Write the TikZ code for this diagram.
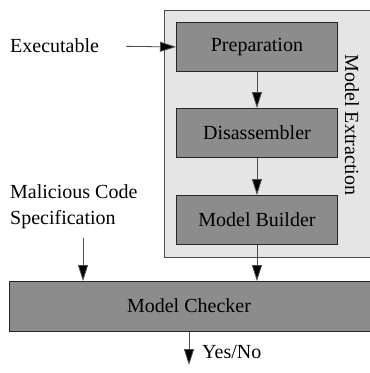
\documentclass[tikz,border=0pt]{standalone}
\usepackage{fontspec}
\setmainfont{Liberation Serif}
\usetikzlibrary{arrows.meta}
\begin{document}
\begin{tikzpicture}[x=1pt,y=-1pt,
  every node/.style={font=\fontsize{20}{26}\selectfont},
  blockbox/.style={draw=black!85,line width=0.9pt,fill=black!45,minimum width=161pt,minimum height=49pt,anchor=north west,inner sep=0pt},
  arr/.style={draw=black!70,line width=0.8pt,-{Triangle[length=16pt,width=10pt,fill=black]}},
  lbl/.style={inner sep=0pt}]
\useasboundingbox (0,0) rectangle (370,373);
\begin{scope}
\clip (0,0) rectangle (370,373);
\node[draw=black!70,line width=0.9pt,fill=black!10,minimum width=230pt,minimum height=247pt,anchor=north west,inner sep=0pt] (outer) at (164,10) {};
\node[blockbox] (prep) at (176,22) {Preparation};
\node[blockbox] (dis) at (176,108) {Disassembler};
\node[blockbox] (build) at (176,195) {Model Builder};
\node[draw=black!85,line width=0.9pt,fill=black!45,minimum width=390pt,minimum height=50pt,anchor=north west,inner sep=0pt] (check) at (9,281) {};
\node[lbl] (checktxt) at (189,306) {Model Checker};
\node[lbl,rotate=-90] (mext) at (352,125) {Model Extraction};
\end{scope}
\node[lbl,anchor=west] (exe) at (10,46) {Executable};
\node[lbl,anchor=north west,align=left] (mal) at (10,184) {Malicious Code\\Specification};
\node[lbl,anchor=west] (yn) at (202,352) {Yes/No};
\coordinate (m1) at (83,238);
\coordinate (yend) at (189,365);
\draw[arr,shorten <=27pt] (exe.east) -- (prep.west);
\draw[arr] (prep.south) -- (dis.north);
\draw[arr] (dis.south) -- (build.north);
\draw[arr] (build.south) -- (build.south |- check.north);
\draw[arr] (m1) -- (m1 |- check.north);
\draw[arr] (yend |- check.south) -- (yend);
\end{tikzpicture}
\end{document}
